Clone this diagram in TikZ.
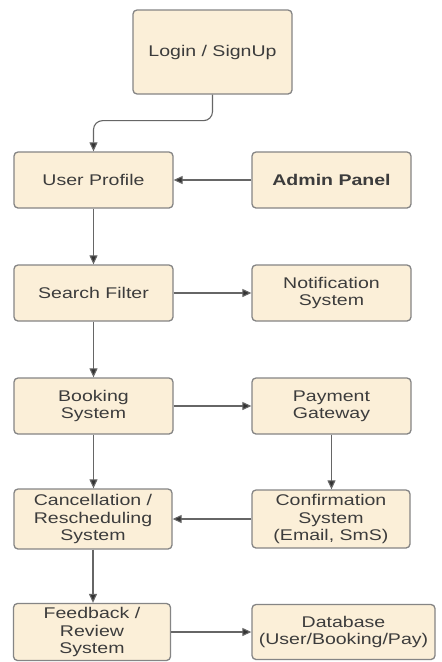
\documentclass[tikz,border=0pt]{standalone}
\usepackage{fontspec}
\setmainfont[FakeStretch=1.26]{Liberation Sans}
\usetikzlibrary{arrows.meta}
\definecolor{boxfill}{HTML}{FBEFD8}
\definecolor{boxline}{HTML}{858585}
\definecolor{txt}{HTML}{3C3C3C}
\definecolor{arr}{HTML}{666666}
\begin{document}
\begin{tikzpicture}[x=1pt,y=-1pt,
  box/.style={draw=boxline, line width=1.3pt, fill=boxfill, rounded corners=4pt,
    text=txt, align=center, inner sep=0pt,
    font=\fontsize{15.5pt}{17.3pt}\selectfont},
  conn/.style={draw=arr, line width=1.1pt, -{Triangle[length=9pt,width=8pt,fill=black!80]}}]
\useasboundingbox[fill=white] (0,0) rectangle (442,662);
\node[box, minimum width=159pt, minimum height=84pt] (login) at (212.5,52) {Login / SignUp};
\node[box, minimum width=159pt, minimum height=56pt] (user) at (93.5,180) {User Profile};
\node[box, minimum width=159pt, minimum height=56pt] (admin) at (331.5,180) {\textbf{Admin Panel}};
\node[box, minimum width=159pt, minimum height=56pt] (search) at (93.5,293) {Search Filter};
\node[box, minimum width=159pt, minimum height=56pt] (notif) at (331.5,293) {Notification\\System};
\node[box, minimum width=159pt, minimum height=56pt] (booking) at (93.5,406) {Booking\\System};
\node[box, minimum width=159pt, minimum height=56pt] (payment) at (331.5,406) {Payment\\Gateway};
\node[box, minimum width=158pt, minimum height=60pt] (cancel) at (93,519) {Cancellation /\\Rescheduling\\System};
\node[box, minimum width=158pt, minimum height=58pt] (confirm) at (331,519) {Confirmation\\System\\(Email, SmS)};
\node[box, minimum width=157pt, minimum height=57pt] (feedback) at (92,632) {Feedback /\\Review\\System};
\node[box, minimum width=183pt, minimum height=55pt] (db) at (343.5,632) {Database\\(User/Booking/Pay)};
\draw[conn, rounded corners=9pt] (login.south) -- ++(0,26) -| (user.north);
\draw[conn] (admin.west) -- (user.east);
\draw[conn] (user.south) -- (search.north);
\draw[conn] (search.east) -- (notif.west);
\draw[conn] (search.south) -- (booking.north);
\draw[conn] (booking.east) -- (payment.west);
\draw[conn] (booking.south) -- (booking.south |- cancel.north);
\draw[conn] (payment.south) -- (payment.south |- confirm.north);
\draw[conn] (confirm.west) -- (confirm.west -| cancel.east);
\draw[conn] (cancel.south) -- (cancel.south |- feedback.north);
\draw[conn] (feedback.east) -- (feedback.east -| db.west);
\end{tikzpicture}
\end{document}
